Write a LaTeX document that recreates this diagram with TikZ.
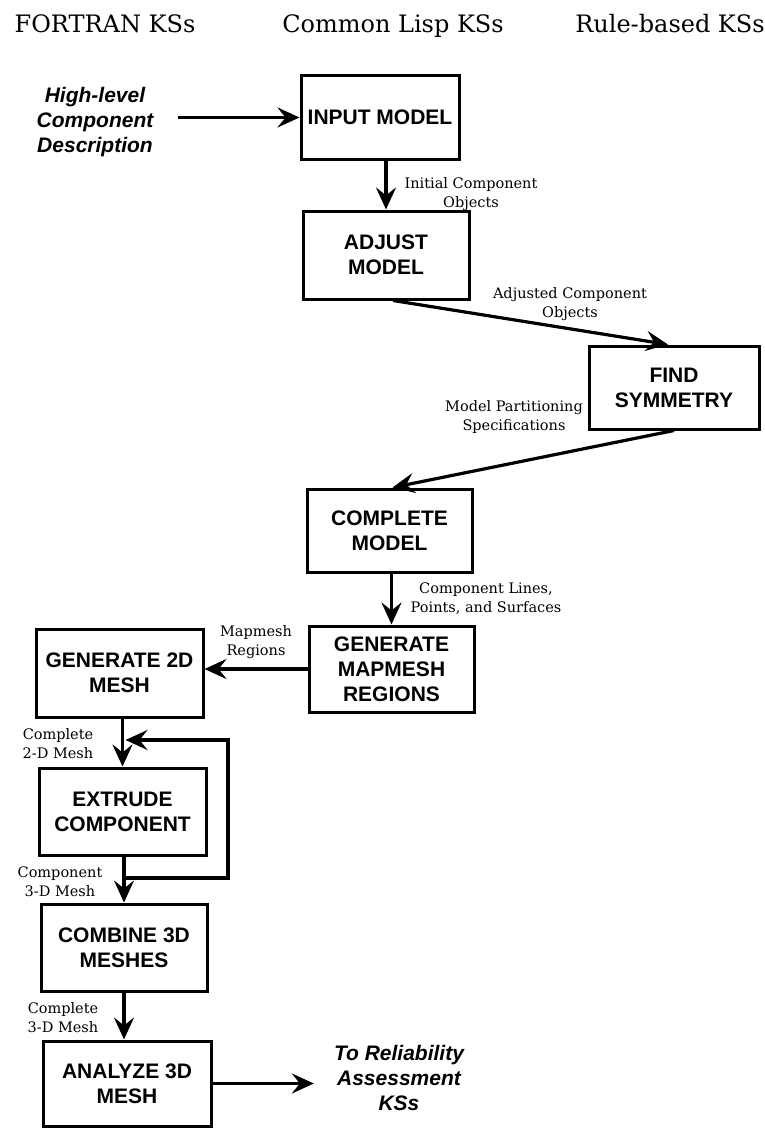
\documentclass[tikz,border=0pt]{standalone}
\usepackage{fontspec}
\setmainfont{DejaVu Serif}
\newfontfamily\boxfont{Liberation Sans}
\usetikzlibrary{arrows.meta}
\tikzset{
 blk/.style={draw, line width=3pt, align=center, inner sep=0pt, font=\boxfont\bfseries\fontsize{21}{25}\selectfont},
 lbl/.style={align=center, inner sep=0pt, font=\fontsize{14.5}{19}\selectfont},
 hdr/.style={anchor=base, inner sep=0pt, font=\fontsize{24}{28}\selectfont},
 ital/.style={align=center, inner sep=0pt, font=\boxfont\bfseries\itshape\fontsize{21}{25}\selectfont},
 arr/.style={line width=3.2pt, -{Stealth[length=22pt,width=20pt,inset=8pt]}},
 ln/.style={line width=3.2pt}
}
\begin{document}
\begin{tikzpicture}[x=1pt,y=-1pt]
\useasboundingbox[fill=white] (0,0) rectangle (764,1129);
% headers
\node[hdr] (h1) at (105,33) {FORTRAN KSs};
\node[hdr] (h2) at (393,33) {Common Lisp KSs};
\node[hdr] (h3) at (670,33) {Rule-based KSs};
% boxes
\node[blk, minimum width=158pt, minimum height=83pt] (input) at (380,117.5) {INPUT MODEL};
\node[blk, minimum width=166pt, minimum height=88pt] (adjust) at (386,255) {ADJUST\\MODEL};
\node[blk, minimum width=170pt, minimum height=83pt] (find) at (674,387.5) {FIND\\SYMMETRY};
\node[blk, minimum width=165pt, minimum height=83pt] (complete) at (389.5,530.5) {COMPLETE\\MODEL};
\node[blk, minimum width=165pt, minimum height=86pt] (genmap) at (391.5,669) {GENERATE\\MAPMESH\\REGIONS};
\node[blk, minimum width=167pt, minimum height=88pt] (gen2d) at (119.5,673) {GENERATE 2D\\MESH};
\node[blk, minimum width=167pt, minimum height=87pt] (extrude) at (122.5,811.5) {EXTRUDE\\COMPONENT};
\node[blk, minimum width=166pt, minimum height=87pt] (combine) at (124,947.5) {COMBINE 3D\\MESHES};
\node[blk, minimum width=168pt, minimum height=85pt] (analyze) at (127,1083.5) {ANALYZE 3D\\MESH};
% italic texts
\node[ital] (high) at (95,122) {High-level\\Component\\Description};
\node[ital] (rel) at (399,1078) {To Reliability\\Assessment\\KSs};
% labels
\node[lbl] (linit) at (471,194) {Initial Component\\Objects};
\node[lbl] (ladj) at (570,304) {Adjusted Component\\Objects};
\node[lbl] (lpart) at (514,417) {Model Partitioning\\Specifications};
\node[lbl] (llines) at (486,599) {Component Lines,\\Points, and Surfaces};
\node[lbl] (lmap) at (256,642) {Mapmesh\\Regions};
\node[lbl] (lc2d) at (58,744) {Complete\\2-D Mesh};
\node[lbl] (lcomp) at (60,882) {Component\\3-D Mesh};
\node[lbl] (lc3d) at (63,1018) {Complete\\3-D Mesh};
% connectors
\draw[arr] ([xshift=24pt]high.east |- input.west) -- (input.west);
\draw[arr] (adjust.north |- input.south) -- (adjust.north);
\draw[arr] ([xshift=7pt]adjust.south) -- ([xshift=-6pt]find.north);
\draw[arr] (find.south) -- ([xshift=3pt]complete.north);
\draw[arr] (genmap.north |- complete.south) -- (genmap.north);
\draw[arr] (genmap.west) -- (genmap.west -| gen2d.east);
\draw[arr] (extrude.north |- gen2d.south) -- (extrude.north);
\draw[arr] (combine.north |- extrude.south) -- (combine.north);
\draw[arr] (combine.south) -- (combine.south |- analyze.north);
\draw[arr] (analyze.east) -- ([xshift=-20pt]rel.west |- analyze.east);
% loop
\coordinate (lb) at (228,878);
\coordinate (lt) at (228,740);
\draw[arr] (combine.north |- lb) -- (lb) -- (lt) -- ([xshift=3pt]extrude.north |- lt);
\end{tikzpicture}
\end{document}
